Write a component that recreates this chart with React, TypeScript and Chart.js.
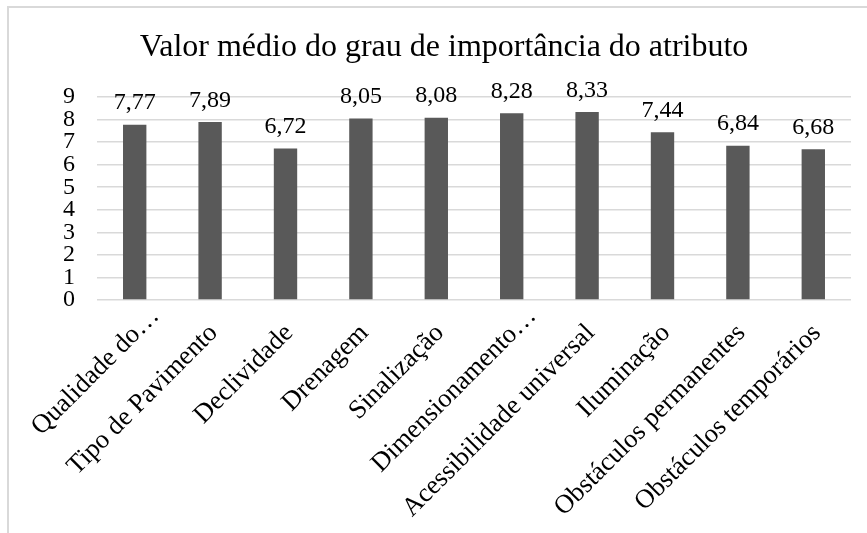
import React, { useEffect, useRef } from "react";
import { Chart, registerables } from "chart.js";

Chart.register(...registerables);

const TITLE = "Valor médio do grau de importância do atributo";
const categories = [
  "Qualidade do…",
  "Tipo de Pavimento",
  "Declividade",
  "Drenagem",
  "Sinalização",
  "Dimensionamento…",
  "Acessibilidade universal",
  "Iluminação",
  "Obstáculos permanentes",
  "Obstáculos temporários",
];
const values = [7.77, 7.89, 6.72, 8.05, 8.08, 8.28, 8.33, 7.44, 6.84, 6.68];
const yMin = 0;
const yMax = 9;
const yStep = 1;

const FONT = "'Liberation Serif', 'Times New Roman', serif";
const X_FONT_SIZE = 26.5;

const dataLabelPlugin = {
  id: "dataLabels",
  afterDatasetsDraw(chart: any) {
    const ctx = chart.ctx;
    const meta = chart.getDatasetMeta(0);
    const data = chart.data.datasets[0].data as number[];
    ctx.save();
    ctx.font = `24px ${FONT}`;
    ctx.fillStyle = "#000";
    ctx.textAlign = "center";
    ctx.textBaseline = "alphabetic";
    meta.data.forEach((el: any, i: number) => {
      const txt = data[i].toFixed(2).replace(".", ",");
      ctx.fillText(txt, el.x, el.y - 15.5);
    });
    ctx.restore();
  },
};

// Rotated category labels drawn Excel-style (text end anchored near the tick)
const xLabelPlugin = {
  id: "xLabels",
  afterDraw(chart: any) {
    const ctx = chart.ctx;
    const scale = chart.scales.x;
    const labels = chart.data.labels as string[];
    const r = Math.SQRT1_2;
    ctx.save();
    ctx.font = `${X_FONT_SIZE}px ${FONT}`;
    ctx.fillStyle = "#000";
    ctx.textAlign = "right";
    ctx.textBaseline = "middle";
    labels.forEach((lab, i) => {
      const tx = scale.getPixelForTick(i);
      const shift = lab.endsWith("…") ? 24 : 0;
      const x = tx + 3.6 + shift * r;
      const y = scale.top + 29 - shift * r;
      ctx.save();
      ctx.translate(x, y);
      ctx.rotate(-Math.PI / 4);
      ctx.fillText(lab, 0, 0);
      ctx.restore();
    });
    ctx.restore();
  },
};

export default function App() {
  const ref = useRef<HTMLCanvasElement | null>(null);

  useEffect(() => {
    const prevMargin = document.body.style.margin;
    document.body.style.margin = "0";
    const canvas = ref.current;
    if (!canvas) return;
    const chart = new Chart(canvas, {
      type: "bar",
      data: {
        labels: categories,
        datasets: [
          {
            data: values,
            backgroundColor: "#595959",
            borderWidth: 0,
            categoryPercentage: 1,
            barPercentage: 0.31,
          },
        ],
      },
      options: {
        animation: false,
        responsive: false,
        devicePixelRatio: 1,
        layout: { padding: { left: 28, right: 16, top: 0, bottom: 0 } },
        plugins: {
          legend: { display: false },
          tooltip: { enabled: false },
          title: {
            display: true,
            text: TITLE,
            color: "#000",
            font: { family: FONT, size: 32, weight: "normal" },
            padding: { top: 20, bottom: 30.6 },
          },
        },
        scales: {
          x: {
            grid: { display: false, drawTicks: false },
            border: { display: false },
            afterFit: (scale: any) => {
              scale.height = 233;
              scale.paddingLeft = 0;
              scale.paddingRight = 0;
            },
            ticks: { display: false, autoSkip: false },
          },
          y: {
            min: yMin,
            max: yMax,
            afterFit: (scale: any) => {
              scale.width = 60;
            },
            grid: { color: "#d9d9d9", lineWidth: 1.5, drawTicks: false },
            border: { display: false },
            ticks: {
              stepSize: yStep,
              autoSkip: false,
              padding: 22,
              color: "#000",
              font: { family: FONT, size: 24 },
            },
          },
        },
      },
      plugins: [dataLabelPlugin, xLabelPlugin],
    });
    return () => {
      chart.destroy();
      document.body.style.margin = prevMargin;
    };
  }, []);

  return (
    <div
      style={{
        position: "fixed",
        left: 7,
        top: 6,
        width: 860,
        height: 527,
        borderTop: "2px solid #d9d9d9",
        borderLeft: "2px solid #d9d9d9",
        background: "#fff",
      }}
    >
      <canvas ref={ref} width={858} height={525} style={{ display: "block" }} />
    </div>
  );
}
